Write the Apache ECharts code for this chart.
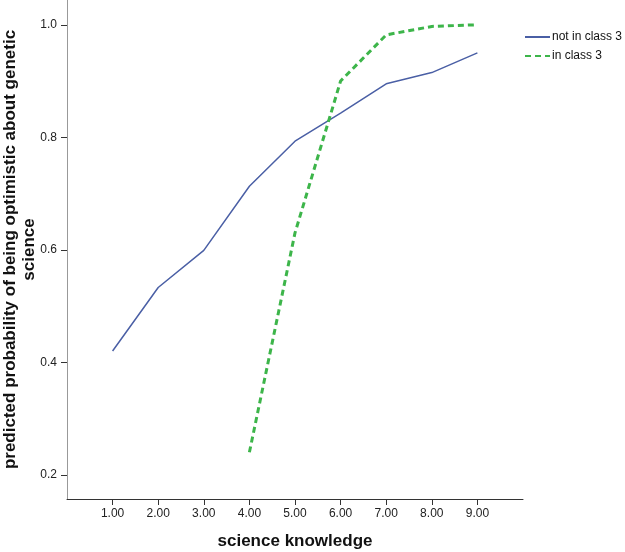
<!DOCTYPE html>
<html><head><meta charset="utf-8">
<script src="https://cdn.jsdelivr.net/npm/echarts@6/dist/echarts.min.js"></script>
<style>html,body{margin:0;padding:0;background:#fff}#c{width:625px;height:552px}</style>
</head><body><div id="c"></div>
<script>
var xValues = [1, 2, 3, 4, 5, 6, 7, 8, 9];
var notInClass3 = [0.420, 0.533, 0.599, 0.713, 0.793, 0.843, 0.895, 0.915, 0.950];
var inClass3X = [4, 5, 6, 7, 8, 9];
var inClass3 = [0.240, 0.630, 0.900, 0.982, 0.997, 1.000];
var yTicks = [0.2, 0.4, 0.6, 0.8, 1.0];

var chart = echarts.init(document.getElementById('c'));
var font = 'Liberation Sans, Arial, sans-serif';
chart.setOption({
  animation: false,
  textStyle: {fontFamily: font},
  grid: {left: 67, right: 102, top: 0, bottom: 53, outerBoundsMode: 'none', containLabel: false},
  legend: {
    orient: 'vertical', left: 524, top: 29, padding: 0, itemWidth: 25, itemHeight: 14, itemGap: 3,
    itemStyle: {opacity: 0},
    textStyle: {fontSize: 12, color: '#111', fontFamily: font, padding: [0,0,0,-3], lineHeight: 16},
    data: ['not in class 3', 'in class 3']
  },
  xAxis: {
    type: 'value', min: 0, max: 10,
    name: 'science knowledge', nameLocation: 'middle', nameGap: 34, nameMoveOverlap: false,
    nameTextStyle: {fontSize: 17, fontWeight: 'bold', color: '#111', fontFamily: font},
    axisLine: {lineStyle: {color: '#333', width: 1}},
    axisTick: {show: true, customValues: xValues, length: 6, lineStyle: {color: '#333'}},
    axisLabel: {customValues: xValues, margin: 9, fontSize: 12, color: '#222',
      formatter: function (v) { return v.toFixed(2); }},
    splitLine: {show: false}
  },
  yAxis: {
    type: 'value', min: 0.157, max: 1.044,
    name: 'predicted probability of being optimistic about genetic\nscience',
    nameLocation: 'middle', nameGap: 28, nameRotate: 90, nameMoveOverlap: false,
    nameTextStyle: {fontSize: 17, fontWeight: 'bold', color: '#111', lineHeight: 19, fontFamily: font},
    axisLine: {show: true, lineStyle: {color: '#999', width: 1}},
    axisTick: {show: true, customValues: yTicks, length: 6, lineStyle: {color: '#333'}},
    axisLabel: {customValues: yTicks, margin: 10, fontSize: 12, color: '#222',
      formatter: function (v) { return v.toFixed(1); }},
    splitLine: {show: false}
  },
  series: [
    {
      name: 'not in class 3', type: 'line', symbol: 'none',
      data: xValues.map(function (x, i) { return [x, notInClass3[i]]; }),
      lineStyle: {color: '#4a5fa5', width: 1.5},
      itemStyle: {color: '#4a5fa5'}
    },
    {
      name: 'in class 3', type: 'line', symbol: 'none',
      data: inClass3X.map(function (x, i) { return [x, inClass3[i]]; }),
      lineStyle: {color: '#3db54a', width: 3, type: [6, 4]},
      itemStyle: {color: '#3db54a'}
    }
  ]
});
</script></body></html>
